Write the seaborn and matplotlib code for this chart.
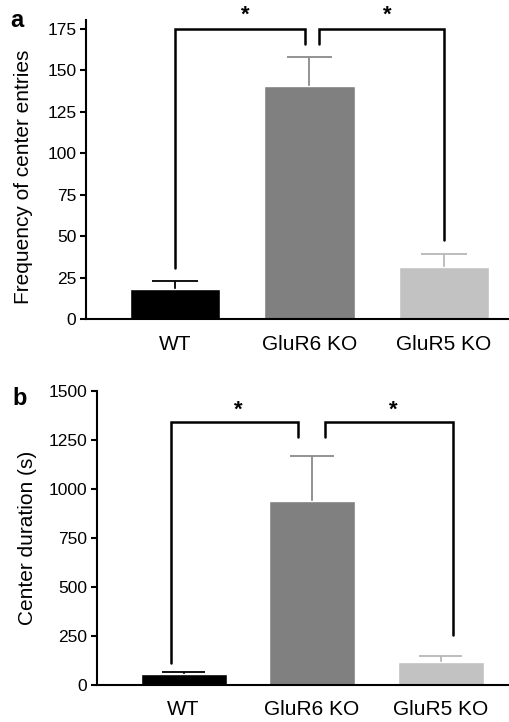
import matplotlib
matplotlib.use("Agg")
import matplotlib.pyplot as plt
import seaborn as sns
import pandas as pd

# datos
groups = ["WT", "GluR6 KO", "GluR5 KO"]
colors = ["#000000", "#808080", "#c2c2c2"]
err_colors = ["#000000", "#8a8a8a", "#b8b8b8"]

entries_mean = [18.2, 140.7, 31.8]
entries_sem = [5.2, 17.3, 7.5]

duration_mean = [54, 939, 117]
duration_sem = [10, 228, 32]

# brackets de significancia: (x0, y0, x1, ytop, y1)
entries_brackets = [(0.0, 31, 0.97, 175, 166), (1.07, 166, 2.0, 175, 48)]
entries_stars = [(0.52, 183), (1.58, 183)]
duration_brackets = [(-0.1, 114, 0.89, 1342, 1265), (1.1, 1265, 2.1, 1342, 255)]
duration_stars = [(0.425, 1401), (1.63, 1401)]

sns.set_style("white", {"text.color": "black", "axes.labelcolor": "black",
                        "xtick.color": "black", "ytick.color": "black"})
plt.rcParams["font.family"] = ["Liberation Sans", "DejaVu Sans"]

fig = plt.figure(figsize=(5.1, 7.22), dpi=100)
ax_a = fig.add_axes([0.1686, 0.5575, 0.8314, 0.4148])
ax_b = fig.add_axes([0.1902, 0.0512, 0.8098, 0.4077])


def draw_panel(ax, means, sems, brackets, stars, ylim, yticks, xlim, ylabel, label_xy, cap):
    df = pd.DataFrame({"group": groups, "value": means})
    sns.barplot(data=df, x="group", y="value", hue="group", palette=colors,
                legend=False, width=0.67, ax=ax, saturation=1, zorder=2)
    # solo la mitad superior del error
    for i, (m, s) in enumerate(zip(means, sems)):
        ax.vlines(i, m * 0.97, m + s, color=err_colors[i], lw=1.3, zorder=1)
        ax.hlines(m + s, i - cap, i + cap, color=err_colors[i], lw=1.3, zorder=1)
    for x0, y0, x1, yt, y1 in brackets:
        ax.plot([x0, x0, x1, x1], [y0, yt, yt, y1], color="black", lw=1.8,
                clip_on=False, solid_joinstyle="miter")
    for x, y in stars:
        ax.text(x, y, "*", ha="center", va="center", fontsize=16,
                fontweight="bold", clip_on=False)
    ax.set_ylim(*ylim)
    ax.set_xlim(*xlim)
    ax.set_yticks(yticks)
    ax.set_xlabel("")
    ax.set_ylabel(ylabel, fontsize=15)
    ax.yaxis.set_label_coords(*label_xy)
    sns.despine(ax=ax)
    for sp in ["left", "bottom"]:
        ax.spines[sp].set_linewidth(1.5)
        ax.spines[sp].set_color("black")
    ax.tick_params(axis="y", length=4, width=1.5, labelsize=12.5, pad=3, left=True)
    ax.tick_params(axis="x", length=0, labelsize=15, pad=11)


draw_panel(ax_a, entries_mean, entries_sem, entries_brackets, entries_stars,
           (0, 180.4), range(0, 176, 25), (-0.66, 2.49),
           "Frequency of center entries", (-0.125, 0.477), 0.17)
draw_panel(ax_b, duration_mean, duration_sem, duration_brackets, duration_stars,
           (0, 1500), range(0, 1501, 250), (-0.674, 2.54),
           "Center duration (s)", (-0.145, 0.501), 0.17)

fig.text(0.02, 0.972, "a", fontsize=17, fontweight="bold", va="center")
fig.text(0.025, 0.448, "b", fontsize=17, fontweight="bold", va="center")

fig.savefig("out.png", dpi=100)
